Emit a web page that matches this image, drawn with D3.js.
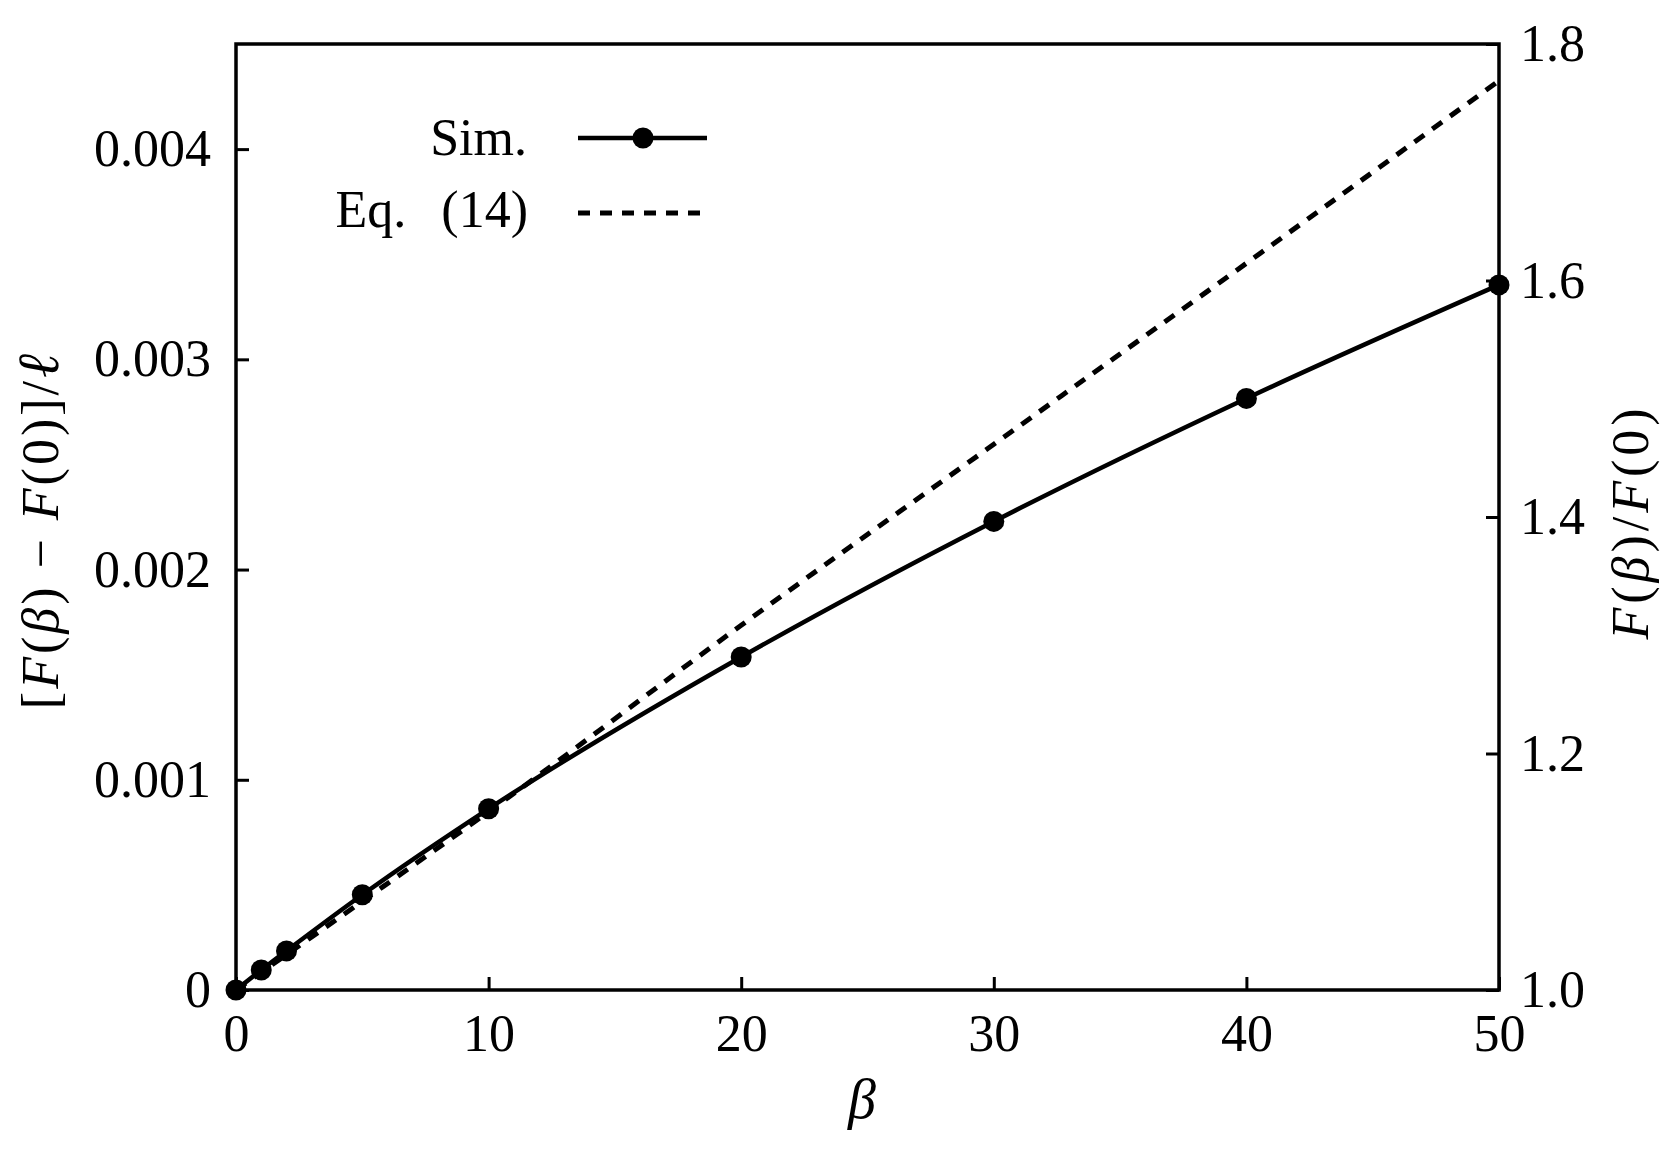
<!DOCTYPE html>
<html>
<head>
<meta charset="utf-8">
<script src="https://cdn.jsdelivr.net/npm/d3@7"></script>
<style>
  html, body { margin: 0; padding: 0; background: #fff; }
  svg { display: block; }
  text { font-family: "Liberation Serif", "Times New Roman", serif; fill: #000; }
</style>
</head>
<body>
<script>
// ---- data ----
const simBeta = [0, 1, 2, 5, 10, 20, 30, 40, 50];
const simValues = [0, 0.000095, 0.000186, 0.000453, 0.000862, 0.001584, 0.002229, 0.002814, 0.003354];
const eqBeta = [0, 5, 10, 20, 30, 40, 50];
const eqValues = [0, 0.000422, 0.000848, 0.001735, 0.002596, 0.003457, 0.004325];
const xTicks = [0, 10, 20, 30, 40, 50];
const yLeftTicks = [0, 0.001, 0.002, 0.003, 0.004];
const yLeftTickLabels = ["0", "0.001", "0.002", "0.003", "0.004"];
const yRightTicks = [1.0, 1.2, 1.4, 1.6, 1.8];
const yRightTickLabels = ["1.0", "1.2", "1.4", "1.6", "1.8"];
const legendLabels = ["Sim.", "Eq. (14)"];

const W = 1664, H = 1159;
const L = 236, R = 1499, T = 44, B = 990;
const FS = 52;

const svg = d3.select("body").append("svg").attr("width", W).attr("height", H);

const x = d3.scaleLinear().domain([0, 50]).range([L, R]);
const yL = d3.scaleLinear().domain([0, 0.0045]).range([B, T]);
const yR = d3.scaleLinear().domain([1.0, 1.8]).range([B, T]);

function styleAxis(g) {
  g.select(".domain").remove();
  g.selectAll(".tick line").attr("stroke", "#000").attr("stroke-width", 3);
  g.selectAll(".tick text").attr("font-size", FS).attr("font-family", '"Liberation Serif", serif').attr("fill", "#000");
}

// axes
svg.append("g").attr("transform", `translate(0,${B})`)
  .call(d3.axisBottom(x).tickValues(xTicks).tickSize(-13).tickPadding(24).tickFormat(d3.format("d")))
  .call(styleAxis);

svg.append("g").attr("transform", `translate(${L},0)`)
  .call(d3.axisLeft(yL).tickValues(yLeftTicks).tickSize(-13).tickPadding(25)
    .tickFormat((d, i) => yLeftTickLabels[i]))
  .call(styleAxis);

svg.append("g").attr("transform", `translate(${R},0)`)
  .call(d3.axisRight(yR).tickValues(yRightTicks).tickSize(-13).tickPadding(21)
    .tickFormat((d, i) => yRightTickLabels[i]))
  .call(styleAxis);

// frame
svg.append("rect").attr("x", L).attr("y", T).attr("width", R - L).attr("height", B - T)
  .attr("fill", "none").attr("stroke", "#000").attr("stroke-width", 3.5);

// lines
svg.append("clipPath").attr("id", "clip").append("rect")
  .attr("x", L).attr("y", T).attr("width", R - L).attr("height", B - T);

const eqLine = d3.line().x((d, i) => x(eqBeta[i])).y(d => yL(d)).curve(d3.curveMonotoneX);
svg.append("path").attr("d", eqLine(eqValues)).attr("fill", "none").attr("stroke", "#000")
  .attr("stroke-width", 5).attr("stroke-dasharray", "12,10").attr("clip-path", "url(#clip)");

const simLine = d3.line().x((d, i) => x(simBeta[i])).y(d => yL(d)).curve(d3.curveMonotoneX);
svg.append("path").attr("d", simLine(simValues)).attr("fill", "none").attr("stroke", "#000")
  .attr("stroke-width", 4.5);

svg.append("g").selectAll("circle").data(simValues).join("circle")
  .attr("cx", (d, i) => x(simBeta[i])).attr("cy", d => yL(d)).attr("r", 10.5).attr("fill", "#000");

// legend
const lg = svg.append("g");
lg.append("text").attr("x", 527).attr("y", 155).attr("text-anchor", "end").attr("font-size", FS).text(legendLabels[0]);
const eqT = lg.append("text").attr("x", 528).attr("y", 227).attr("text-anchor", "end").attr("font-size", FS);
eqT.append("tspan").text("Eq.");
eqT.append("tspan").attr("dx", 22).text(" (14)");
lg.append("line").attr("x1", 578).attr("x2", 707).attr("y1", 138).attr("y2", 138)
  .attr("stroke", "#000").attr("stroke-width", 4.5);
lg.append("circle").attr("cx", 643).attr("cy", 138).attr("r", 10.5).attr("fill", "#000");
lg.append("line").attr("x1", 578).attr("x2", 702).attr("y1", 213).attr("y2", 213)
  .attr("stroke", "#000").attr("stroke-width", 5).attr("stroke-dasharray", "12,10");

// axis labels
svg.append("text").attr("x", 862).attr("y", 1118).attr("text-anchor", "middle")
  .attr("font-size", 56).attr("font-style", "italic").text("β");

const yl = svg.append("text").attr("transform", "translate(58,530) rotate(-90)")
  .attr("text-anchor", "middle").attr("font-size", FS).attr("letter-spacing", 3);
yl.append("tspan").text("[");
yl.append("tspan").attr("font-style", "italic").text("F");
yl.append("tspan").text("(");
yl.append("tspan").attr("font-style", "italic").text("β");
yl.append("tspan").text(") − ");
yl.append("tspan").attr("font-style", "italic").text("F");
yl.append("tspan").text("(0)]/");
yl.append("tspan").attr("font-style", "italic").attr("font-size", 58).text("ℓ");

const yr = svg.append("text").attr("transform", "translate(1648,522) rotate(-90)")
  .attr("text-anchor", "middle").attr("font-size", FS).attr("letter-spacing", 4);
yr.append("tspan").attr("font-style", "italic").text("F");
yr.append("tspan").text("(");
yr.append("tspan").attr("font-style", "italic").text("β");
yr.append("tspan").text(")/");
yr.append("tspan").attr("font-style", "italic").text("F");
yr.append("tspan").text("(0)");
</script>
</body>
</html>
